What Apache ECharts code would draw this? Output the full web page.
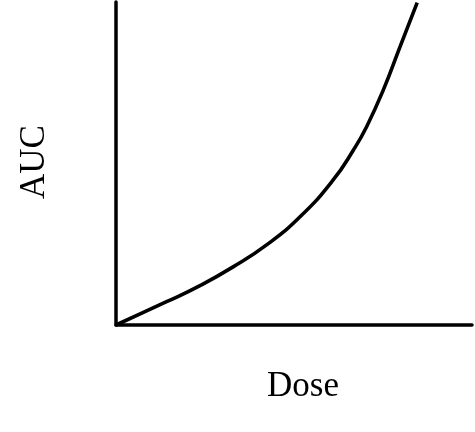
<!DOCTYPE html>
<html>
<head>
<meta charset="utf-8">
<script src="https://cdn.jsdelivr.net/npm/echarts@6/dist/echarts.min.js"></script>
<style>html,body{margin:0;padding:0;background:#fff;}#main{width:475px;height:432px;}</style>
</head>
<body>
<div id="main"></div>
<script>
// Dose (arbitrary units) and AUC (arbitrary units)
const dose = [0, 1.42, 2.36, 3.29, 4.23, 5.17, 6.10, 6.67, 7.04, 7.51, 7.98, 8.46];
const auc  = [0, 0.72, 1.22, 1.80, 2.48, 3.35, 4.49, 5.42, 6.14, 7.28, 8.62, 9.98];
const xLabel = 'Dose';
const yLabel = 'AUC';

const chart = echarts.init(document.getElementById('main'), null, {renderer: 'canvas'});
chart.setOption({
  animation: false,
  backgroundColor: '#ffffff',
  grid: {left: 116, right: 3, top: 2, bottom: 107, containLabel: false},
  xAxis: {
    type: 'value', min: 0, max: 10,
    axisLine: {show: true, lineStyle: {color: '#000', width: 3.5}},
    axisTick: {show: false}, axisLabel: {show: false}, splitLine: {show: false}
  },
  yAxis: {
    type: 'value', min: 0, max: 10,
    axisLine: {show: true, lineStyle: {color: '#000', width: 3.5}},
    axisTick: {show: false}, axisLabel: {show: false}, splitLine: {show: false}
  },
  series: [{
    type: 'line',
    data: dose.map((d, i) => [d, auc[i]]),
    smooth: 0.5,
    showSymbol: false,
    clip: false,
    lineStyle: {color: '#000', width: 3.6}
  }],
  graphic: [
    {type: 'text', x: 35, y: 162, rotation: Math.PI / 2,
     style: {text: yLabel, font: '35px "Liberation Serif", "Times New Roman", serif', fill: '#000', align: 'center', verticalAlign: 'middle'}},
    {type: 'text', x: 303, y: 387,
     style: {text: xLabel, font: '35px "Liberation Serif", "Times New Roman", serif', fill: '#000', align: 'center', verticalAlign: 'middle'}}
  ]
});
</script>
</body>
</html>
